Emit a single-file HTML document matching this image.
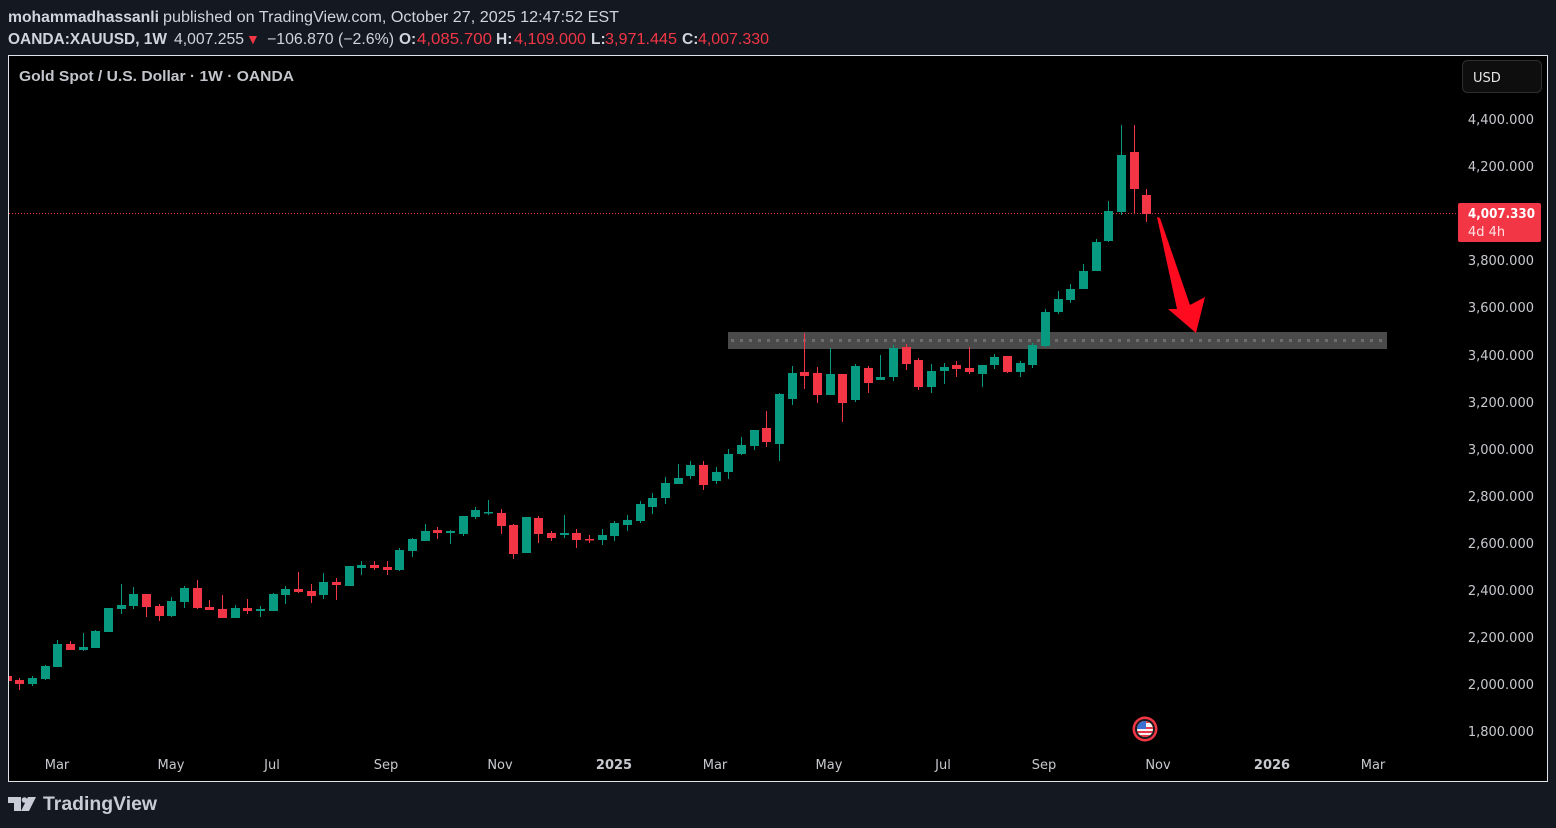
<!DOCTYPE html>
<html><head><meta charset="utf-8"><style>
html,body{margin:0;padding:0;background:#141821;width:1556px;height:828px;overflow:hidden}
svg{display:block}
</style></head><body>
<svg width="1556" height="828" viewBox="0 0 1556 828" xmlns="http://www.w3.org/2000/svg">
<rect x="0" y="0" width="1556" height="828" fill="#141821"/>
<!-- header -->
<g font-family="Liberation Sans, sans-serif" font-size="15.5" fill="#d1d4dc">
<text x="8" y="22" font-weight="bold" textLength="151" lengthAdjust="spacingAndGlyphs">mohammadhassanli</text>
<text x="163" y="22" textLength="456" lengthAdjust="spacingAndGlyphs">published on TradingView.com, October 27, 2025 12:47:52 EST</text>
<text x="8" y="44" font-weight="bold" textLength="159" lengthAdjust="spacingAndGlyphs">OANDA:XAUUSD, 1W</text>
<text x="174" y="44" textLength="70" lengthAdjust="spacingAndGlyphs">4,007.255</text>
<text x="246" y="44" fill="#f23645" font-size="14">▼</text>
<text x="267" y="44" textLength="127" lengthAdjust="spacingAndGlyphs">−106.870 (−2.6%)</text>
<text x="399" y="44" font-weight="bold">O:</text>
<text x="417" y="44" fill="#f23645" textLength="75" lengthAdjust="spacingAndGlyphs">4,085.700</text>
<text x="496" y="44" font-weight="bold">H:</text>
<text x="514" y="44" fill="#f23645" textLength="72" lengthAdjust="spacingAndGlyphs">4,109.000</text>
<text x="591" y="44" font-weight="bold">L:</text>
<text x="605" y="44" fill="#f23645" textLength="72" lengthAdjust="spacingAndGlyphs">3,971.445</text>
<text x="682" y="44" font-weight="bold">C:</text>
<text x="698" y="44" fill="#f23645" textLength="71" lengthAdjust="spacingAndGlyphs">4,007.330</text>
</g>
<!-- chart box -->
<rect x="8.5" y="55.5" width="1539" height="726" fill="#000" stroke="#dfe2e9" stroke-width="1"/>
<text x="19" y="81" font-family="Liberation Sans, sans-serif" font-size="14.5" font-weight="bold" fill="#c3c5cc" textLength="275" lengthAdjust="spacingAndGlyphs">Gold Spot / U.S. Dollar · 1W · OANDA</text>
<!-- USD button -->
<rect x="1462.5" y="60.5" width="79" height="32" rx="5" fill="#0e0e0e" stroke="#2f2f2f"/>
<text x="1473" y="82" font-family="DejaVu Sans, sans-serif" font-size="13" fill="#e6e6e6">USD</text>
<!-- zone -->
<rect x="728" y="332" width="659" height="17" fill="#4a4a4a"/>
<line x1="731" y1="340.5" x2="1387" y2="340.5" stroke="#6e6e6e" stroke-width="3" stroke-dasharray="3,6"/>
<!-- price line -->
<line x1="9" y1="213.5" x2="1458" y2="213.5" stroke="#f23645" stroke-width="1" stroke-dasharray="1,2"/>
<!-- green candles -->
<g fill="#089981">
<rect x="28" y="678" width="9" height="6"/><rect x="32" y="676" width="1" height="10"/>
<rect x="41" y="666" width="9" height="13"/><rect x="45" y="665" width="1" height="15"/>
<rect x="53" y="644" width="9" height="23"/><rect x="57" y="640" width="1" height="27"/>
<rect x="79" y="647" width="9" height="3"/><rect x="83" y="633" width="1" height="18"/>
<rect x="91" y="631" width="9" height="17"/><rect x="95" y="630" width="1" height="18"/>
<rect x="104" y="608" width="9" height="24"/>
<rect x="117" y="605" width="9" height="4"/><rect x="121" y="584" width="1" height="30"/>
<rect x="129" y="594" width="9" height="12"/><rect x="133" y="587" width="1" height="22"/>
<rect x="167" y="601" width="9" height="15"/><rect x="171" y="597" width="1" height="20"/>
<rect x="180" y="588" width="9" height="14"/><rect x="184" y="586" width="1" height="22"/>
<rect x="231" y="608" width="9" height="10"/><rect x="235" y="605" width="1" height="13"/>
<rect x="256" y="609" width="9" height="2"/><rect x="260" y="606" width="1" height="11"/>
<rect x="269" y="594" width="9" height="17"/><rect x="273" y="593" width="1" height="18"/>
<rect x="281" y="589" width="9" height="6"/><rect x="285" y="586" width="1" height="18"/>
<rect x="319" y="582" width="9" height="13"/><rect x="323" y="573" width="1" height="26"/>
<rect x="345" y="566" width="9" height="20"/>
<rect x="357" y="565" width="9" height="3"/><rect x="361" y="561" width="1" height="14"/>
<rect x="395" y="550" width="9" height="20"/><rect x="399" y="548" width="1" height="23"/>
<rect x="408" y="539" width="9" height="12"/><rect x="412" y="538" width="1" height="19"/>
<rect x="421" y="531" width="9" height="10"/><rect x="425" y="524" width="1" height="17"/>
<rect x="446" y="531" width="9" height="2"/><rect x="450" y="530" width="1" height="14"/>
<rect x="459" y="516" width="9" height="18"/><rect x="463" y="516" width="1" height="20"/>
<rect x="471" y="510" width="9" height="7"/><rect x="475" y="507" width="1" height="12"/>
<rect x="484" y="512" width="9" height="1.5"/><rect x="488" y="500" width="1" height="15"/>
<rect x="522" y="517" width="9" height="36"/>
<rect x="560" y="533" width="9" height="2"/><rect x="564" y="515" width="1" height="23"/>
<rect x="598" y="535" width="9" height="5"/><rect x="602" y="529" width="1" height="16"/>
<rect x="610" y="523" width="9" height="13"/><rect x="614" y="521" width="1" height="20"/>
<rect x="623" y="520" width="9" height="5"/><rect x="627" y="515" width="1" height="16"/>
<rect x="636" y="504" width="9" height="17"/><rect x="640" y="501" width="1" height="22"/>
<rect x="648" y="498" width="9" height="9"/><rect x="652" y="493" width="1" height="21"/>
<rect x="661" y="483" width="9" height="15"/><rect x="665" y="477" width="1" height="27"/>
<rect x="674" y="478" width="9" height="6"/><rect x="678" y="464" width="1" height="20"/>
<rect x="686" y="465" width="9" height="11"/><rect x="690" y="461" width="1" height="18"/>
<rect x="712" y="472" width="9" height="9"/><rect x="716" y="467" width="1" height="17"/>
<rect x="724" y="454" width="9" height="18"/><rect x="728" y="449" width="1" height="30"/>
<rect x="737" y="445" width="9" height="9"/><rect x="741" y="437" width="1" height="18"/>
<rect x="750" y="430" width="9" height="16"/><rect x="754" y="430" width="1" height="20"/>
<rect x="775" y="394" width="9" height="50"/><rect x="779" y="393" width="1" height="68"/>
<rect x="788" y="373" width="9" height="26"/><rect x="792" y="366" width="1" height="39"/>
<rect x="826" y="374" width="9" height="21"/><rect x="830" y="348" width="1" height="47"/>
<rect x="851" y="366" width="9" height="34"/><rect x="855" y="364" width="1" height="38"/>
<rect x="876" y="377" width="9" height="3"/><rect x="880" y="355" width="1" height="25"/>
<rect x="889" y="348" width="9" height="29"/><rect x="893" y="345" width="1" height="36"/>
<rect x="927" y="371" width="9" height="16"/><rect x="931" y="364" width="1" height="29"/>
<rect x="940" y="367" width="9" height="4"/><rect x="944" y="363" width="1" height="21"/>
<rect x="978" y="365" width="9" height="9"/><rect x="982" y="365" width="1" height="22"/>
<rect x="990" y="357" width="9" height="8"/><rect x="994" y="354" width="1" height="15"/>
<rect x="1016" y="363" width="9" height="9"/><rect x="1020" y="361" width="1" height="16"/>
<rect x="1028" y="345" width="9" height="20"/><rect x="1032" y="343" width="1" height="25"/>
<rect x="1041" y="312" width="9" height="34"/><rect x="1045" y="309" width="1" height="38"/>
<rect x="1054" y="299" width="9" height="13"/><rect x="1058" y="291" width="1" height="23"/>
<rect x="1066" y="289" width="9" height="11"/><rect x="1070" y="284" width="1" height="19"/>
<rect x="1079" y="271" width="9" height="18"/><rect x="1083" y="264" width="1" height="25"/>
<rect x="1092" y="242" width="9" height="29"/><rect x="1096" y="239" width="1" height="32"/>
<rect x="1104" y="211" width="9" height="30"/><rect x="1108" y="201" width="1" height="41"/>
<rect x="1117" y="155" width="9" height="57"/><rect x="1121" y="125" width="1" height="90"/>
</g>
<!-- red candles -->
<g fill="#f23645">
<rect x="9" y="676" width="3" height="5"/>
<rect x="15" y="680" width="9" height="4"/><rect x="19" y="678" width="1" height="12"/>
<rect x="66" y="644" width="9" height="6"/><rect x="70" y="641" width="1" height="9"/>
<rect x="142" y="594" width="9" height="13"/><rect x="146" y="594" width="1" height="23"/>
<rect x="155" y="606" width="9" height="10"/><rect x="159" y="604" width="1" height="17"/>
<rect x="193" y="588" width="9" height="20"/><rect x="197" y="580" width="1" height="29"/>
<rect x="205" y="607" width="9" height="3"/><rect x="209" y="600" width="1" height="10"/>
<rect x="218" y="609" width="9" height="9"/><rect x="222" y="595" width="1" height="23"/>
<rect x="243" y="608" width="9" height="3"/><rect x="247" y="599" width="1" height="15"/>
<rect x="294" y="589" width="9" height="3"/><rect x="298" y="572" width="1" height="21"/>
<rect x="307" y="591" width="9" height="5"/><rect x="311" y="584" width="1" height="19"/>
<rect x="332" y="582" width="9" height="3"/><rect x="336" y="578" width="1" height="22"/>
<rect x="370" y="565" width="9" height="3"/><rect x="374" y="561" width="1" height="9"/>
<rect x="383" y="567" width="9" height="3"/><rect x="387" y="561" width="1" height="14"/>
<rect x="433" y="530" width="9" height="3"/><rect x="437" y="527" width="1" height="12"/>
<rect x="497" y="513" width="9" height="13"/><rect x="501" y="509" width="1" height="25"/>
<rect x="509" y="525" width="9" height="29"/><rect x="513" y="524" width="1" height="35"/>
<rect x="534" y="518" width="9" height="16"/><rect x="538" y="516" width="1" height="27"/>
<rect x="547" y="533" width="9" height="5"/><rect x="551" y="531" width="1" height="10"/>
<rect x="572" y="533" width="9" height="7"/><rect x="576" y="529" width="1" height="19"/>
<rect x="585" y="539" width="9" height="1.5"/><rect x="589" y="535" width="1" height="8"/>
<rect x="699" y="465" width="9" height="20"/><rect x="703" y="461" width="1" height="29"/>
<rect x="762" y="428" width="9" height="14"/><rect x="766" y="411" width="1" height="36"/>
<rect x="800" y="372" width="9" height="4"/><rect x="804" y="333" width="1" height="56"/>
<rect x="813" y="373" width="9" height="22"/><rect x="817" y="367" width="1" height="36"/>
<rect x="838" y="374" width="9" height="29"/><rect x="842" y="374" width="1" height="48"/>
<rect x="864" y="368" width="9" height="15"/><rect x="868" y="366" width="1" height="27"/>
<rect x="902" y="347" width="9" height="17"/><rect x="906" y="344" width="1" height="26"/>
<rect x="914" y="360" width="9" height="27"/><rect x="918" y="358" width="1" height="32"/>
<rect x="952" y="365" width="9" height="4"/><rect x="956" y="361" width="1" height="16"/>
<rect x="965" y="368" width="9" height="4"/><rect x="969" y="347" width="1" height="27"/>
<rect x="1003" y="356" width="9" height="16"/><rect x="1007" y="356" width="1" height="17"/>
<rect x="1130" y="152" width="9" height="37"/><rect x="1134" y="125" width="1" height="89"/>
<rect x="1142" y="195" width="9" height="19"/><rect x="1146" y="189" width="1" height="33"/>
</g>
<!-- arrow -->
<polygon points="1157,217 1160,218 1190,305 1205,297 1196,333 1168,309 1177,309" fill="#ff0a1e"/>
<!-- price axis labels -->
<g font-family="DejaVu Sans, sans-serif" font-size="13" fill="#c7c9cf" text-anchor="end">
<text x="1534" y="124">4,400.000</text>
<text x="1534" y="171">4,200.000</text>
<text x="1534" y="265">3,800.000</text>
<text x="1534" y="312">3,600.000</text>
<text x="1534" y="360">3,400.000</text>
<text x="1534" y="407">3,200.000</text>
<text x="1534" y="454">3,000.000</text>
<text x="1534" y="501">2,800.000</text>
<text x="1534" y="548">2,600.000</text>
<text x="1534" y="595">2,400.000</text>
<text x="1534" y="642">2,200.000</text>
<text x="1534" y="689">2,000.000</text>
<text x="1534" y="736">1,800.000</text>
</g>
<!-- price label -->
<rect x="1458" y="203" width="83" height="39" rx="2" fill="#f23645"/>
<text x="1468" y="218" font-family="DejaVu Sans, sans-serif" font-size="13" font-weight="bold" fill="#ffffff" textLength="67" lengthAdjust="spacingAndGlyphs">4,007.330</text>
<text x="1468" y="236" font-family="DejaVu Sans, sans-serif" font-size="13" fill="#ffe0e3">4d 4h</text>
<!-- time axis -->
<g font-family="DejaVu Sans, sans-serif" font-size="13" fill="#c7c9cf" text-anchor="middle">
<text x="57" y="769">Mar</text>
<text x="171" y="769">May</text>
<text x="272" y="769">Jul</text>
<text x="386" y="769">Sep</text>
<text x="500" y="769">Nov</text>
<text x="614" y="769" font-weight="bold">2025</text>
<text x="715" y="769">Mar</text>
<text x="829" y="769">May</text>
<text x="943" y="769">Jul</text>
<text x="1044" y="769">Sep</text>
<text x="1158" y="769">Nov</text>
<text x="1272" y="769" font-weight="bold">2026</text>
<text x="1373" y="769">Mar</text>
</g>
<!-- US flag -->
<circle cx="1145" cy="729" r="12.5" fill="#f23645"/>
<circle cx="1145" cy="729" r="10" fill="#1a1a1a"/>
<clipPath id="fc"><circle cx="1145" cy="729" r="8"/></clipPath>
<g clip-path="url(#fc)">
<rect x="1137" y="721" width="16" height="16" fill="#f5f5f5"/>
<rect x="1137" y="727" width="16" height="2" fill="#e8394b"/>
<rect x="1137" y="731" width="16" height="2" fill="#e8394b"/>
<rect x="1137" y="735" width="16" height="2" fill="#e8394b"/>
<rect x="1137" y="721" width="16" height="2" fill="#e8394b"/>
<rect x="1137" y="721" width="9" height="8" fill="#3b6fd1"/>
</g>
<!-- TradingView logo -->
<g fill="#c9ccd6">
<path d="M8 797 H21 V811 H14 V803 H8 Z"/>
<circle cx="24.5" cy="800" r="2.8"/>
<path d="M28 797 H36 L29 811 H21 Z"/>
</g>
<text x="43" y="810" font-family="Liberation Sans, sans-serif" font-size="19" font-weight="bold" fill="#c9ccd6" textLength="114" lengthAdjust="spacingAndGlyphs">TradingView</text>
</svg>
</body></html>
